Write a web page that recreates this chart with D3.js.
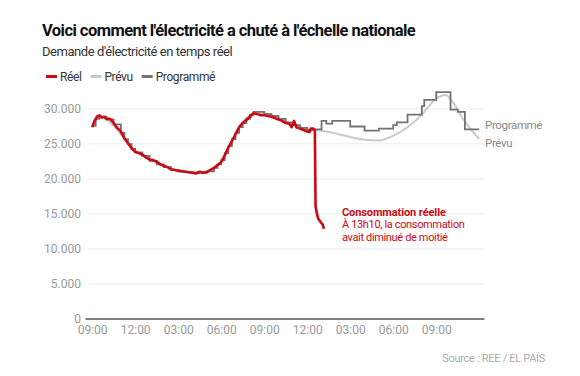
<!DOCTYPE html>
<html>
<head>
<meta charset="utf-8">
<script src="https://cdn.jsdelivr.net/npm/d3@7"></script>
<style>
  body { margin: 0; background: #fff; font-family: Roboto, "Noto Sans", sans-serif; }
  svg { display: block; }
</style>
</head>
<body>
<div id="chart"></div>
<script>
// ---------------------------------------------------------------------------
// DATA (times are "day hh:mm" in April 2025, values in MW)
// ---------------------------------------------------------------------------
const reel = [
  ["27 21:00", 27300], ["27 21:10", 28200], ["27 21:20", 28800], ["27 21:30", 29000],
  ["27 21:40", 28700], ["27 21:50", 28800], ["27 22:00", 28500], ["27 22:15", 28500],
  ["27 22:30", 27900], ["27 22:45", 27200], ["27 23:00", 26700], ["27 23:15", 25700],
  ["27 23:30", 25000], ["27 23:45", 24300], ["28 00:00", 23800], ["28 00:15", 23600],
  ["28 00:30", 23400], ["28 00:45", 23000], ["28 01:00", 22700], ["28 01:15", 22600],
  ["28 01:30", 22400], ["28 01:45", 22000], ["28 02:00", 21800], ["28 02:15", 21600],
  ["28 02:30", 21300], ["28 02:45", 21200], ["28 03:00", 21100], ["28 03:30", 20950],
  ["28 04:00", 20800], ["28 04:15", 20700], ["28 04:30", 20950], ["28 04:45", 20800],
  ["28 05:00", 20900], ["28 05:15", 21200], ["28 05:30", 21500], ["28 05:45", 21900],
  ["28 06:00", 22300], ["28 06:15", 23300], ["28 06:30", 24400], ["28 06:45", 25300],
  ["28 07:00", 26300], ["28 07:15", 27300], ["28 07:30", 27900], ["28 07:45", 28300],
  ["28 08:00", 28800], ["28 08:15", 29300], ["28 08:30", 29200], ["28 08:45", 29000],
  ["28 09:00", 29000], ["28 09:30", 28800], ["28 10:00", 28400], ["28 10:15", 28200],
  ["28 10:30", 27900], ["28 10:45", 27800], ["28 10:55", 27300], ["28 11:05", 28200],
  ["28 11:15", 27300], ["28 11:30", 27100], ["28 11:45", 26900], ["28 12:00", 26700],
  ["28 12:10", 26600], ["28 12:15", 27100], ["28 12:25", 27100], ["28 12:32", 26900],
  ["28 12:35", 16000], ["28 12:45", 14300], ["28 13:00", 13600], ["28 13:05", 13400],
  ["28 13:10", 12800]
];

const prevu = [
  ["27 21:00", 27600], ["27 21:30", 28700], ["27 22:00", 28400], ["27 23:00", 26300],
  ["28 00:00", 23900], ["28 01:00", 22700], ["28 02:00", 21800], ["28 03:00", 21100],
  ["28 04:00", 20800], ["28 05:00", 21000], ["28 06:00", 22500], ["28 07:00", 26400],
  ["28 08:00", 29000], ["28 09:00", 29300], ["28 10:00", 28600], ["28 11:00", 27700],
  ["28 12:00", 27000], ["28 13:00", 26800], ["28 14:00", 26400], ["28 15:00", 25900],
  ["28 16:00", 25500], ["28 17:00", 25400], ["28 18:00", 26100], ["28 19:00", 27300],
  ["28 20:00", 29100], ["28 21:00", 31400], ["28 21:40", 31900], ["28 22:00", 31300],
  ["28 23:00", 28100], ["29 00:00", 25600]
];

const programme = [
  ["27 21:00", 27500], ["27 21:15", 28500], ["27 21:30", 28800], ["27 22:00", 28400],
  ["27 22:30", 27700], ["27 23:00", 26500], ["27 23:15", 25600], ["27 23:30", 24900],
  ["27 23:45", 24200], ["28 00:00", 23700], ["28 00:30", 23200], ["28 01:00", 22500],
  ["28 01:30", 22000], ["28 02:00", 21600], ["28 02:30", 21200], ["28 03:00", 21000],
  ["28 03:30", 20900], ["28 04:00", 20800], ["28 04:30", 20800], ["28 05:00", 21000],
  ["28 05:30", 21500], ["28 05:45", 22000], ["28 06:00", 22600], ["28 06:15", 23600],
  ["28 06:30", 24600], ["28 06:45", 25600], ["28 07:00", 26500], ["28 07:15", 27300],
  ["28 07:30", 27900], ["28 07:45", 28500], ["28 08:00", 29100], ["28 08:15", 29500],
  ["28 08:30", 29500], ["28 09:00", 29200], ["28 09:30", 28900], ["28 10:00", 28500],
  ["28 10:30", 28000], ["28 11:00", 27600], ["28 11:30", 27200], ["28 12:00", 26900],
  ["28 12:30", 27000], ["28 13:00", 28200], ["28 13:20", 27800], ["28 13:45", 28200],
  ["28 15:00", 27400], ["28 16:00", 26800], ["28 17:00", 27100], ["28 18:00", 27600],
  ["28 18:15", 28000], ["28 19:00", 29100], ["28 20:00", 30300], ["28 20:10", 31200],
  ["28 21:00", 32300], ["28 22:00", 29800], ["28 22:30", 29500], ["28 23:00", 27000],
  ["29 00:00", 27000]
];

const xTickLabels = ["27 21:00", "28 00:00", "28 03:00", "28 06:00", "28 09:00",
                     "28 12:00", "28 15:00", "28 18:00", "28 21:00"];
const yTickValues = [0, 5000, 10000, 15000, 20000, 25000, 30000];
const xDomain = ["27 20:30", "29 00:20"];
const yDomain = [0, 30000];

const legendItems = [
  { label: "Réel", color: "#cc0a14" },
  { label: "Prévu", color: "#c9c9c9" },
  { label: "Programmé", color: "#737373" }
];

// ---------------------------------------------------------------------------
// SETUP
// ---------------------------------------------------------------------------
const W = 580, H = 376;
const parseT = s => d3.timeParse("%Y-%m-%d %H:%M")("2025-04-" + s);
const toPts = arr => arr.map(([t, v]) => ({ t: parseT(t), v }));

const svg = d3.select("#chart").append("svg")
  .attr("width", W)
  .attr("height", H);

const x = d3.scaleTime()
  .domain(xDomain.map(parseT))
  .range([85, 484]);

const y = d3.scaleLinear()
  .domain(yDomain)
  .range([318.5, 108.3]);

const locale = d3.formatLocale({ decimal: ",", thousands: ".", grouping: [3], currency: ["", " €"] });
const fmtY = locale.format(",");

// Title & subtitle
svg.append("text")
  .attr("x", 42).attr("y", 36)
  .style("font-size", "16.5px").style("font-weight", 700).style("fill", "#111")
  .style("letter-spacing", "-0.55px")
  .text("Voici comment l'électricité a chuté à l'échelle nationale");

svg.append("text")
  .attr("x", 42).attr("y", 55.5)
  .style("font-size", "13px").style("fill", "#333")
  .style("letter-spacing", "-0.45px")
  .text("Demande d'électricité en temps réel");

// Legend
let lx = 46;
legendItems.forEach(item => {
  svg.append("line")
    .attr("x1", lx).attr("x2", lx + 11)
    .attr("y1", 76.5).attr("y2", 76.5)
    .attr("stroke", item.color).attr("stroke-width", 3);
  const t = svg.append("text")
    .attr("x", lx + 14).attr("y", 81)
    .style("font-size", "12px").style("fill", "#333")
    .style("letter-spacing", "-0.4px")
    .text(item.label);
  lx += 14 + t.node().getComputedTextLength() + 9;
});

// ---------------------------------------------------------------------------
// AXES
// ---------------------------------------------------------------------------
const yAxis = svg.append("g")
  .attr("transform", "translate(88,0)")
  .call(d3.axisLeft(y).tickValues(yTickValues).tickFormat(fmtY)
    .tickSize(-(484 - 88)).tickPadding(7));
yAxis.select(".domain").remove();
yAxis.selectAll(".tick line").attr("stroke", "#ececec");
yAxis.selectAll(".tick").filter(d => d === 0).select("line").remove();
yAxis.selectAll("text")
  .style("font-family", "Roboto, sans-serif").style("font-size", "12px").style("fill", "#999");

const xAxis = svg.append("g")
  .attr("transform", `translate(0,${y(0)})`)
  .call(d3.axisBottom(x).tickValues(xTickLabels.map(parseT))
    .tickFormat(d3.timeFormat("%I:%M")).tickSize(0).tickPadding(7));
xAxis.select(".domain").attr("stroke", "#555").attr("stroke-width", 1.6);
xAxis.selectAll("text")
  .style("font-family", "Roboto, sans-serif").style("font-size", "12px").style("fill", "#999");

// ---------------------------------------------------------------------------
// LINES
// ---------------------------------------------------------------------------
const smooth = d3.line().x(d => x(d.t)).y(d => y(d.v)).curve(d3.curveMonotoneX);
const step = d3.line().x(d => x(d.t)).y(d => y(d.v)).curve(d3.curveStepAfter);
const plain = d3.line().x(d => x(d.t)).y(d => y(d.v));

svg.append("path")
  .attr("d", smooth(toPts(prevu)))
  .attr("fill", "none").attr("stroke", "#c9c9c9").attr("stroke-width", 2);

svg.append("path")
  .attr("d", step(toPts(programme)))
  .attr("fill", "none").attr("stroke", "#737373").attr("stroke-width", 1.8);

svg.append("path")
  .attr("d", plain(toPts(reel)))
  .attr("fill", "none").attr("stroke", "#cc0a14").attr("stroke-width", 2.6)
  .attr("stroke-linejoin", "round");

// End labels
svg.append("text")
  .attr("x", 485).attr("y", 129)
  .style("font-size", "11.5px").style("fill", "#888").style("letter-spacing", "-0.35px")
  .text("Programmé");
svg.append("text")
  .attr("x", 485).attr("y", 146.5)
  .style("font-size", "11.5px").style("fill", "#888").style("letter-spacing", "-0.35px")
  .text("Prévu");

// Annotation
const note = svg.append("text")
  .attr("x", 342).attr("y", 216)
  .style("font-size", "11px").style("fill", "#cc0a14");
note.append("tspan").attr("x", 342).style("font-weight", 700)
  .style("letter-spacing", "-0.1px").text("Consommation réelle");
note.append("tspan").attr("x", 342).attr("dy", 12.4)
  .style("letter-spacing", "-0.35px").text("À 13h10, la consommation");
note.append("tspan").attr("x", 342).attr("dy", 12.4)
  .style("letter-spacing", "-0.35px").text("avait diminué de moitié");

// Source
svg.append("text")
  .attr("x", 545).attr("y", 362)
  .attr("text-anchor", "end")
  .style("font-size", "11px").style("fill", "#aaa").style("letter-spacing", "-0.3px")
  .text("Source : REE / EL PAÍS");
</script>
</body>
</html>
